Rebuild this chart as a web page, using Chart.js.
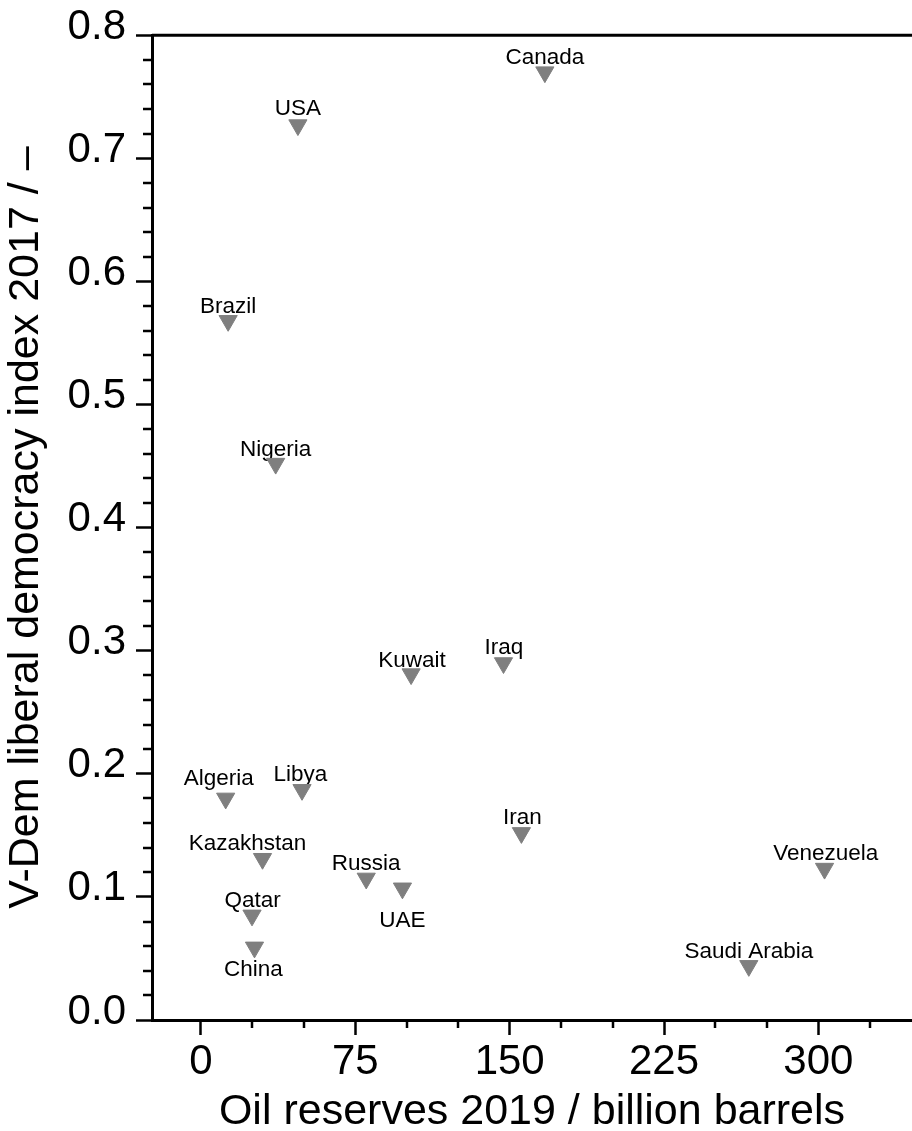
<!DOCTYPE html>
<html>
<head>
<meta charset="utf-8">
<script src="https://cdn.jsdelivr.net/npm/chart.js@4.4.0/dist/chart.umd.min.js"></script>
<style>
  html, body { margin: 0; padding: 0; background: #fff; overflow: hidden; }
  #wrap { width: 912px; height: 1131px; }
</style>
</head>
<body>
<div id="wrap"><canvas id="oilChart" width="912" height="1131"></canvas></div>
<script>
// Oil reserves vs. liberal democracy index, one marker per country
const countries = ['Canada', 'USA', 'Brazil', 'Nigeria', 'Kuwait', 'Iraq', 'Iran', 'Venezuela',
    'Saudi Arabia', 'Algeria', 'Libya', 'Kazakhstan', 'Russia', 'UAE', 'Qatar', 'China'];
const oilReserves = [167.1, 47.1, 13.2, 36.3, 102.1, 147.0, 155.7, 303.0,
    266.2, 12.0, 49.1, 29.9, 80.3, 97.9, 24.8, 26.0];
const democracyIndex = [0.770, 0.727, 0.568, 0.452, 0.281, 0.290, 0.152, 0.123,
    0.044, 0.180, 0.187, 0.131, 0.115, 0.107, 0.085, 0.059];

const xTicks = [0, 75, 150, 225, 300];
const yTicks = [0.0, 0.1, 0.2, 0.3, 0.4, 0.5, 0.6, 0.7, 0.8];

// where each name sits relative to its marker (dx, baseline dy)
const labelOffsets = [[0, -8.5], [0, -10], [0, -8], [0, -7.5], [1, -7.5], [0.5, -9], [1, -8.5], [1.3, -8.5],
    [0, -8.2], [-7, -13.3], [-1.7, -9], [-15, -8.7], [0, -8.3], [0, 38.5], [0.5, -8.4], [-1, 28.5]];

const FONT = '"Liberation Sans", Arial, sans-serif';

const points = oilReserves.map((x, i) => ({ x: x, y: democracyIndex[i] }));

// country names, minor ticks and the top frame line
const decorations = {
    id: 'decorations',
    beforeDatasetsDraw(chart) {
        const ctx = chart.ctx;
        const meta = chart.getDatasetMeta(0);
        ctx.save();
        ctx.fillStyle = '#000';
        ctx.font = '22.5px ' + FONT;
        ctx.textAlign = 'center';
        ctx.textBaseline = 'alphabetic';
        meta.data.forEach((pt, i) => {
            const off = labelOffsets[i];
            ctx.fillText(countries[i], pt.x + off[0], pt.y + off[1]);
        });
        ctx.restore();
    },
    afterDraw(chart) {
        const ctx = chart.ctx;
        const area = chart.chartArea;
        const xs = chart.scales.x;
        const ys = chart.scales.y;
        ctx.save();
        ctx.strokeStyle = '#000';
        ctx.lineWidth = 2.5;
        ctx.beginPath();
        for (let v = 25; v < xs.max; v += 25) {
            if (v % 75 === 0) continue;
            const px = Math.round(xs.getPixelForValue(v));
            ctx.moveTo(px, area.bottom);
            ctx.lineTo(px, area.bottom + 8);
        }
        for (let k = 1; k < 40; k++) {
            if (k % 5 === 0) continue;
            const py = Math.round(ys.getPixelForValue(k * 0.02));
            ctx.moveTo(area.left, py);
            ctx.lineTo(area.left - 9, py);
        }
        ctx.stroke();
        ctx.lineWidth = 3;
        ctx.beginPath();
        ctx.moveTo(area.left, area.top);
        ctx.lineTo(chart.width, area.top);
        ctx.stroke();
        ctx.restore();
    }
};

new Chart(document.getElementById('oilChart'), {
    type: 'scatter',
    data: {
        datasets: [{
            data: points,
            pointStyle: 'triangle',
            rotation: 180,
            radius: 10.5,
            borderWidth: 1,
            backgroundColor: '#7f7f7f',
            borderColor: '#7f7f7f'
        }]
    },
    options: {
        responsive: false,
        animation: false,
        devicePixelRatio: 1,
        layout: { autoPadding: false, padding: { top: 33, left: 0, right: 0, bottom: 0 } },
        plugins: {
            legend: { display: false },
            tooltip: { enabled: false }
        },
        scales: {
            x: {
                type: 'linear',
                min: -23.8,
                max: 345.5,
                afterBuildTicks: (scale) => { scale.ticks = xTicks.map(v => ({ value: v })); },
                afterFit: (scale) => { scale.height = 111; },
                border: { display: true, color: '#000', width: 3 },
                grid: { drawOnChartArea: false, drawTicks: true, tickLength: 15, tickWidth: 2.5, tickColor: '#000' },
                ticks: {
                    color: '#000',
                    font: { family: FONT, size: 42 },
                    padding: 2,
                    maxRotation: 0,
                    callback: (v) => String(v)
                },
                title: {
                    display: true,
                    text: 'Oil reserves 2019 / billion barrels',
                    color: '#000',
                    font: { family: FONT, size: 43, lineHeight: 0.9 },
                    padding: 0
                }
            },
            y: {
                type: 'linear',
                min: 0,
                max: 0.8,
                afterBuildTicks: (scale) => { scale.ticks = yTicks.map(v => ({ value: v })); },
                afterFit: (scale) => { scale.width = 152; },
                border: { display: true, color: '#000', width: 3 },
                grid: { drawOnChartArea: false, drawTicks: true, tickLength: 16, tickWidth: 2.5, tickColor: '#000' },
                ticks: {
                    color: '#000',
                    font: { family: FONT, size: 42 },
                    padding: 10,
                    labelOffset: -8,
                    callback: (v) => v.toFixed(1)
                },
                title: {
                    display: true,
                    text: 'V-Dem liberal democracy index 2017 / \u2013',
                    color: '#000',
                    font: { family: FONT, size: 43, lineHeight: 1.0 },
                    padding: { top: 5, bottom: 0 }
                }
            }
        }
    },
    plugins: [decorations]
});
</script>
</body>
</html>
